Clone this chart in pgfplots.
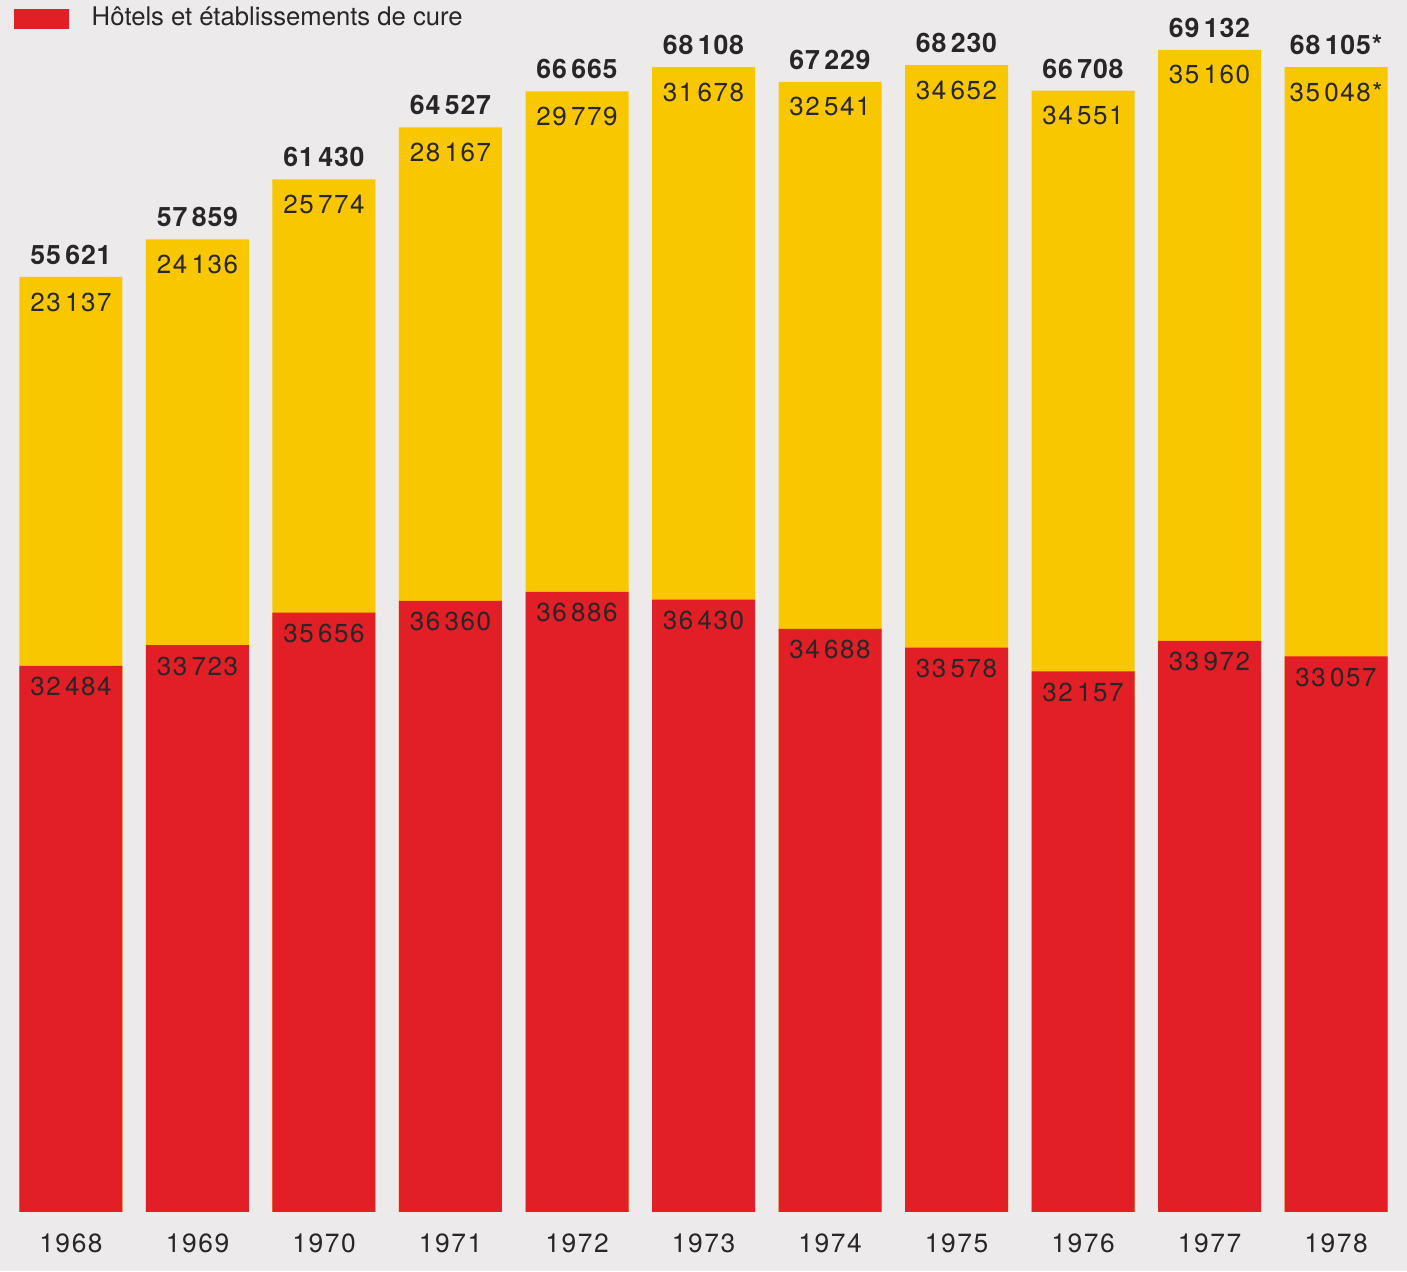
\documentclass[border=0pt]{standalone}
\usepackage{fontspec}
\setmainfont{TeX Gyre Heros}
\usepackage{pgfplots}
\usepackage{pgfplotstable}
\pgfplotsset{compat=1.18}

\definecolor{barred}{RGB}{226,30,38}
\definecolor{baryellow}{RGB}{249,199,0}
\definecolor{paper}{RGB}{236,234,234}
\definecolor{ink}{RGB}{40,38,38}

% hôtels (rouge), total (haut de la barre jaune), libellés
\pgfplotstableread{
x red total rl yl tl
0 32484 55621 {32\,484} {23\,137} {55\,621}
1 33723 57859 {33\,723} {24\,136} {57\,859}
2 35656 61430 {35\,656} {25\,774} {61\,430}
3 36360 64527 {36\,360} {28\,167} {64\,527}
4 36886 66665 {36\,886} {29\,779} {66\,665}
5 36430 68108 {36\,430} {31\,678} {68\,108}
6 34688 67229 {34\,688} {32\,541} {67\,229}
7 33578 68230 {33\,578} {34\,652} {68\,230}
8 32157 66708 {32\,157} {34\,551} {66\,708}
9 33972 69132 {33\,972} {35\,160} {69\,132}
10 33057 68105 {33\,057} {35\,048*} {68\,105*}
}\data

\begin{document}
\begin{tikzpicture}
\begin{axis}[
    name=ax,
    width=140.7mm, height=127.1mm,
    scale only axis,
    ybar, bar shift=0pt,
    bar width=10.3mm,
    xmin=-0.561, xmax=10.561,
    ymin=-3510, ymax=72100,
    axis background/.style={fill=paper},
    axis line style={draw=none},
    tick style={draw=none},
    ytick=\empty,
    xtick=data,
    xticklabels={1968,1969,1970,1971,1972,1973,1974,1975,1976,1977,1978},
    xticklabel style={anchor=base, yshift=3.4mm, text=ink,
        font=\fontsize{7.5}{8}\selectfont\addfontfeatures{LetterSpace=6}},
    /pgf/number format/assume math mode=true,
    point meta=explicit symbolic,
    legend style={at={(rel axis cs:0,1)}, anchor=north west, draw=none,
        fill=none, xshift=1.3mm, yshift=0.1mm, inner sep=0pt,
        font=\fontsize{7.3}{8}\selectfont\color{ink},
        legend cell align=left},
    legend image code/.code={\fill[barred] (0mm,-1mm) rectangle (5.5mm,1mm);},
]
\addplot[fill=baryellow, draw=none, bar shift=0pt, forget plot,
    nodes near coords,
    every node near coord/.style={anchor=center, yshift=-2.5mm, text=ink,
        font=\fontsize{7.4}{8}\selectfont\addfontfeatures{LetterSpace=6}}]
    table[x=x, y=total, meta=yl] {\data};
\addplot[fill=barred, draw=none, bar shift=0pt,
    nodes near coords,
    every node near coord/.style={anchor=center, yshift=-2.1mm, text=ink,
        font=\fontsize{7.4}{8}\selectfont\addfontfeatures{LetterSpace=6}}]
    table[x=x, y=red, meta=rl] {\data};
\addlegendentry{\hspace{1.6mm}Hôtels et établissements de cure}
\addplot[fill=none, draw=none, bar shift=0pt, forget plot,
    nodes near coords,
    every node near coord/.style={anchor=center, yshift=2.2mm, text=ink,
        font=\fontsize{7.6}{8}\selectfont\bfseries\addfontfeatures{LetterSpace=3}}]
    table[x=x, y=total, meta=tl] {\data};
\end{axis}
\pgfresetboundingbox
\useasboundingbox (ax.south west) rectangle (ax.north east);
\end{tikzpicture}
\end{document}
